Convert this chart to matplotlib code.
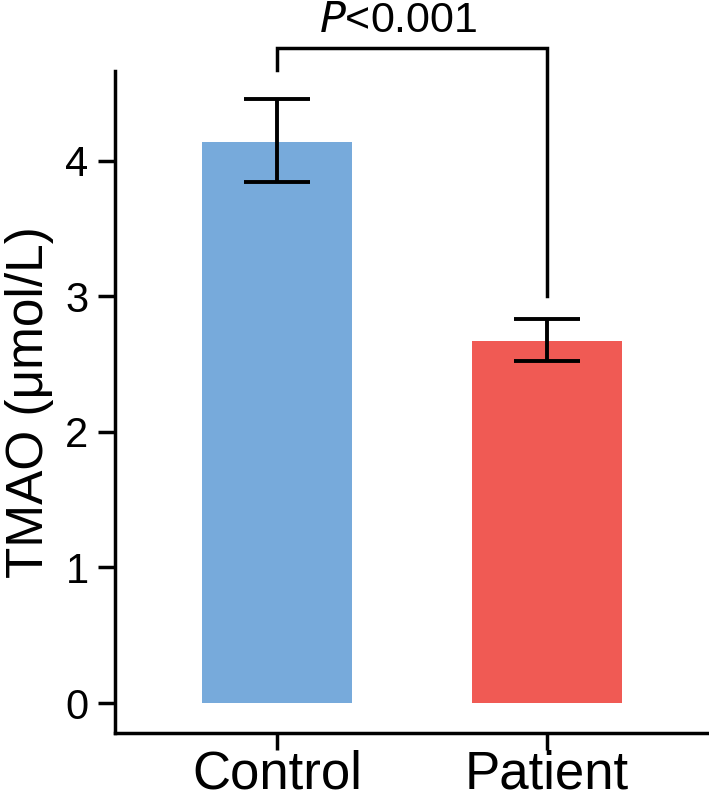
import matplotlib
matplotlib.use("Agg")
import matplotlib.pyplot as plt

plt.rcParams['font.family'] = ['Liberation Sans', 'DejaVu Sans']

groups = ["Control", "Patient"]
means = [4.14, 2.67]
upper = [4.45, 2.83]
lower = [3.84, 2.52]
colors = ["#77AADB", "#F05A54"]
yticks = [0, 1, 2, 3, 4]
p_label = "$\\it{P}$<0.001"

fig = plt.figure(figsize=(7.09, 7.92), dpi=100)
ax = fig.add_axes([0.1622, 0.0745, 0.8378, 0.8359])

x = list(range(len(groups)))
ax.bar(x, means, width=0.555, color=colors, zorder=1)
yerr = [[m - lo for m, lo in zip(means, lower)], [up - m for m, up in zip(means, upper)]]
ax.errorbar(x, means, yerr=yerr, fmt='none', ecolor='black', elinewidth=2.8,
            capsize=24, capthick=2.8, zorder=2)

# significance bracket
bracket_top = 4.83
left_end = 4.67
right_end = 3.0
ax.plot([x[0], x[0], x[1], x[1]], [left_end, bracket_top, bracket_top, right_end],
        color='black', lw=2.5, clip_on=False, solid_joinstyle='miter')
ax.text(0.45, 4.945, p_label, ha='center', va='baseline', fontsize=31, clip_on=False)

ax.set_xlim(-0.6, 1.6)
ax.set_ylim(-0.22, 4.66)
ax.set_xticks(x)
ax.set_xticklabels(groups, fontsize=38)
ax.set_yticks(yticks)
ax.set_yticklabels([str(t) for t in yticks], fontsize=30)
ax.set_ylabel("TMAO (μmol/L)", fontsize=37, labelpad=8)

for side in ['top', 'right']:
    ax.spines[side].set_visible(False)
for side in ['left', 'bottom']:
    ax.spines[side].set_linewidth(2.5)
ax.tick_params(axis='both', width=2.5, length=12, color='black')
ax.tick_params(axis='y', pad=7)
ax.tick_params(axis='x', pad=0)

fig.savefig("out.png", dpi=100)
